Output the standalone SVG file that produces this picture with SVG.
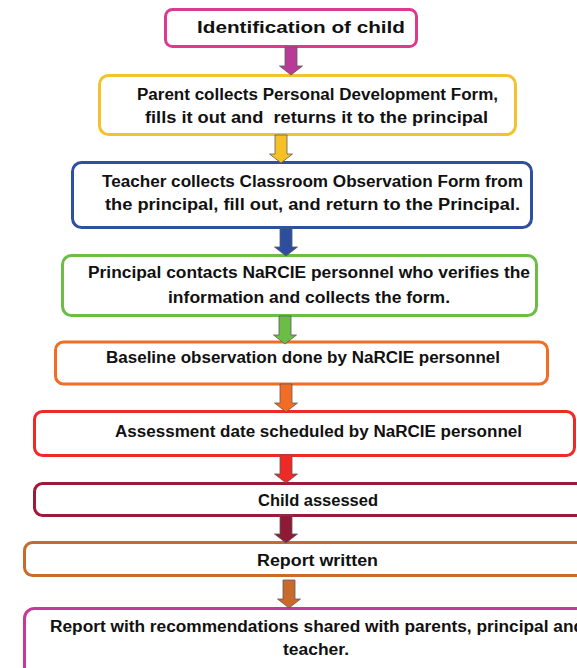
<svg xmlns="http://www.w3.org/2000/svg" width="577" height="668" viewBox="0 0 577 668">
<style>
.box{fill:#fff;stroke-width:3}
.t{font-family:"Liberation Sans",Arial,sans-serif;font-weight:bold;font-size:16px;fill:#111}
.arr{stroke:#5a5a5a;stroke-width:0.8}
</style>
<defs>
<path id="ar" d="M-6,0 H6 V19 H11.5 L0,28 L-11.5,19 H-6 Z"/>
</defs>
<rect width="577" height="668" fill="#fff"/>
<g id="n1"><rect class="box" x="165.5" y="9.5" width="251" height="37" rx="7" stroke="#DB3A8E"/>
<text class="t" x="197" y="33" font-size="18" textLength="208" lengthAdjust="spacingAndGlyphs">Identification of child</text></g>
<g id="n2"><rect class="box" x="99.5" y="75.5" width="416" height="59" rx="9" stroke="#F4C22E"/>
<text class="t" x="137" y="100" textLength="361" lengthAdjust="spacingAndGlyphs">Parent collects Personal Development Form,</text>
<text class="t" x="145" y="123" textLength="343" lengthAdjust="spacingAndGlyphs" xml:space="preserve">fills it out and  returns it to the principal</text></g>
<g id="n3"><rect class="box" x="72.5" y="162.5" width="459" height="65" rx="9" stroke="#2F4F9F"/>
<text class="t" x="102" y="187" textLength="421" lengthAdjust="spacingAndGlyphs">Teacher collects Classroom Observation Form from</text>
<text class="t" x="105" y="210" textLength="415" lengthAdjust="spacingAndGlyphs">the principal, fill out, and return to the Principal.</text></g>
<g id="n4"><rect class="box" x="62.5" y="255.5" width="474" height="60" rx="9" stroke="#6CBD45"/>
<text class="t" x="88" y="278" textLength="442" lengthAdjust="spacingAndGlyphs">Principal contacts NaRCIE personnel who verifies the</text>
<text class="t" x="168" y="303" textLength="282" lengthAdjust="spacingAndGlyphs">information and collects the form.</text></g>
<g id="n5"><rect class="box" x="55.5" y="342" width="492" height="42" rx="8" stroke="#F36C24"/>
<text class="t" x="106" y="363" textLength="394" lengthAdjust="spacingAndGlyphs">Baseline observation done by NaRCIE personnel</text></g>
<g id="n6"><rect class="box" x="34.5" y="411.5" width="540" height="44" rx="8" stroke="#EE2A26"/>
<text class="t" x="115" y="437" textLength="407" lengthAdjust="spacingAndGlyphs">Assessment date scheduled by NaRCIE personnel</text></g>
<g id="n7"><rect class="box" x="34.5" y="483.5" width="560" height="32" rx="8" stroke="#9B1B3B"/>
<text class="t" x="258" y="506" textLength="120" lengthAdjust="spacingAndGlyphs">Child assessed</text></g>
<g id="n8"><rect class="box" x="24.5" y="542.5" width="570" height="33" rx="8" stroke="#C96A2C"/>
<text class="t" x="257" y="566" textLength="121" lengthAdjust="spacingAndGlyphs">Report written</text></g>
<g id="n9"><rect class="box" x="24.5" y="608.5" width="580" height="90" rx="10" stroke="#C5399A"/>
<text class="t" x="50" y="632" textLength="534" lengthAdjust="spacingAndGlyphs">Report with recommendations shared with parents, principal and</text>
<text class="t" x="283" y="655" textLength="66" lengthAdjust="spacingAndGlyphs">teacher.</text></g>
<g id="connectors">
<use href="#ar" class="arr" x="291" y="47" fill="#B83C96"/>
<use href="#ar" class="arr" x="281" y="135" fill="#F5C125"/>
<use href="#ar" class="arr" x="286" y="228" fill="#2D4E9E"/>
<use href="#ar" class="arr" x="285" y="316" fill="#6CBD45"/>
<use href="#ar" class="arr" x="286" y="384" fill="#F36C24"/>
<use href="#ar" class="arr" x="286" y="455" fill="#EE2A26"/>
<use href="#ar" class="arr" x="286" y="515" fill="#8E1A36"/>
<use href="#ar" class="arr" x="289" y="580" fill="#C96A2C"/>
</g>
</svg>
